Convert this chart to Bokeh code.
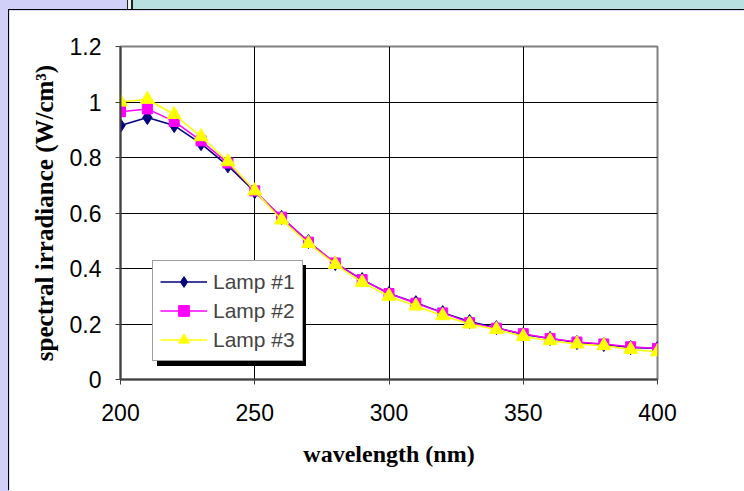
from bokeh.plotting import figure
from bokeh.layouts import column
from bokeh.models import Range1d, FixedTicker, Legend, LegendItem
from bokeh.embed import file_html
from bokeh.resources import INLINE

wavelength = [200, 210, 220, 230, 240, 250, 260, 270, 280, 290, 300,
              310, 320, 330, 340, 350, 360, 370, 380, 390, 400]
lamp1 = [0.915, 0.944, 0.915, 0.850, 0.770, 0.677, 0.584, 0.497, 0.418, 0.360, 0.310,
         0.277, 0.241, 0.209, 0.187, 0.162, 0.148, 0.133, 0.126, 0.115, 0.112]
lamp2 = [0.965, 0.975, 0.930, 0.860, 0.780, 0.680, 0.585, 0.495, 0.420, 0.360, 0.310,
         0.275, 0.240, 0.205, 0.185, 0.165, 0.148, 0.135, 0.128, 0.118, 0.112]
lamp3 = [1.000, 1.010, 0.955, 0.875, 0.785, 0.680, 0.575, 0.490, 0.415, 0.350, 0.300,
         0.265, 0.230, 0.200, 0.180, 0.155, 0.140, 0.128, 0.122, 0.108, 0.100]
series_names = ["Lamp #1", "Lamp #2", "Lamp #3"]
x_ticks = [200, 250, 300, 350, 400]
y_ticks = [0, 0.2, 0.4, 0.6, 0.8, 1.0, 1.2]

LAVENDER = "#d0d0f8"
CYAN = "#b8e0e0"

p = figure(width=735, height=481, output_backend="svg", toolbar_location=None,
           x_range=Range1d(200, 400), y_range=Range1d(0, 1.2),
           min_border_left=111, min_border_right=87, min_border_top=36, min_border_bottom=112,
           margin=(10, 0, 0, 9), styles={"box-shadow": "-1px -1px 0 0 #000000"})
p.border_fill_color = "white"
p.background_fill_color = "white"
p.outline_line_color = "#808080"
p.outline_line_width = 2

p.xaxis.ticker = FixedTicker(ticks=x_ticks)
p.yaxis.ticker = FixedTicker(ticks=y_ticks)
p.yaxis.major_label_overrides = {0: "0", 1.0: "1", 1.2: "1.2"}
p.xgrid.ticker = FixedTicker(ticks=[250, 300, 350])
p.ygrid.ticker = FixedTicker(ticks=[0.2, 0.4, 0.6, 0.8, 1.0])
for g in (p.xgrid, p.ygrid):
    g.grid_line_color = "black"
    g.grid_line_width = 1
for ax in (p.xaxis, p.yaxis):
    ax.axis_line_color = "#404040"
    ax.axis_line_width = 2
    ax.major_tick_line_color = "#404040"
    ax.major_tick_in = 0
    ax.major_tick_out = 5
    ax.minor_tick_line_color = None
    ax.major_label_text_font = "Liberation Sans"
    ax.major_label_text_font_size = "23px"
    ax.major_label_text_color = "black"
    ax.axis_label_text_font = "Liberation Serif"
    ax.axis_label_text_font_style = "bold"
    ax.axis_label_text_color = "black"
p.xaxis.axis_label_text_font_size = "24px"
p.yaxis.axis_label_text_font_size = "25px"
p.xaxis.major_label_standoff = 19
p.yaxis.major_label_standoff = 14
p.xaxis.axis_label = "wavelength (nm)"
p.yaxis.axis_label = "spectral irradiance (W/cm³)"
p.xaxis.axis_label_standoff = 17
p.yaxis.axis_label_standoff = 9

l1 = p.line(wavelength, lamp1, line_color="#000080", line_width=1.5)
m1 = p.scatter(wavelength, lamp1, marker="diamond", size=14, color="#000080")
l2 = p.line(wavelength, lamp2, line_color="#FF00FF", line_width=1.5)
m2 = p.scatter(wavelength, lamp2, marker="square", size=10, color="#FF00FF")
l3 = p.line(wavelength, lamp3, line_color="#FFFF00", line_width=1.5)
m3 = p.scatter(wavelength, lamp3, marker="triangle", size=14, color="#FFFF00")

common = dict(label_text_font="Liberation Sans", label_text_font_size="21px",
              border_line_width=1, glyph_width=47, glyph_height=27,
              label_height=27, label_width=80, padding=7, spacing=2,
              label_standoff=6, margin=0, background_fill_alpha=1.0)

# drop shadow of the legend: same-size black box, offset down/right
shadow = Legend(items=[LegendItem(label=" ", renderers=[r]) for r in (l1, l2, l3)],
                location=(37, 13), border_line_color="black",
                background_fill_color="black", label_text_color="black", **common)
p.add_layout(shadow)

legend = Legend(items=[LegendItem(label=series_names[0], renderers=[l1, m1]),
                       LegendItem(label=series_names[1], renderers=[l2, m2]),
                       LegendItem(label=series_names[2], renderers=[l3, m3])],
                location=(32, 18), border_line_color="#404040",
                background_fill_color="white", **common)
p.add_layout(legend)

page_bg = (
    "linear-gradient(#111111, #111111) 8px 9px / 736px 1px no-repeat, "
    f"linear-gradient(to right, {LAVENDER} 0px, {LAVENDER} 127px, #222222 127px, "
    "#222222 128px, #f0f0f0 128px, #f0f0f0 131px, #222222 131px, #222222 133px, "
    f"{CYAN} 133px, {CYAN} 744px) 0px 0px / 744px 9px no-repeat, "
    f"{LAVENDER}"
)

layout = column(p, width=744, height=491, spacing=0, styles={"background": page_bg})

open("out.html", "w").write(file_html(layout, INLINE))
